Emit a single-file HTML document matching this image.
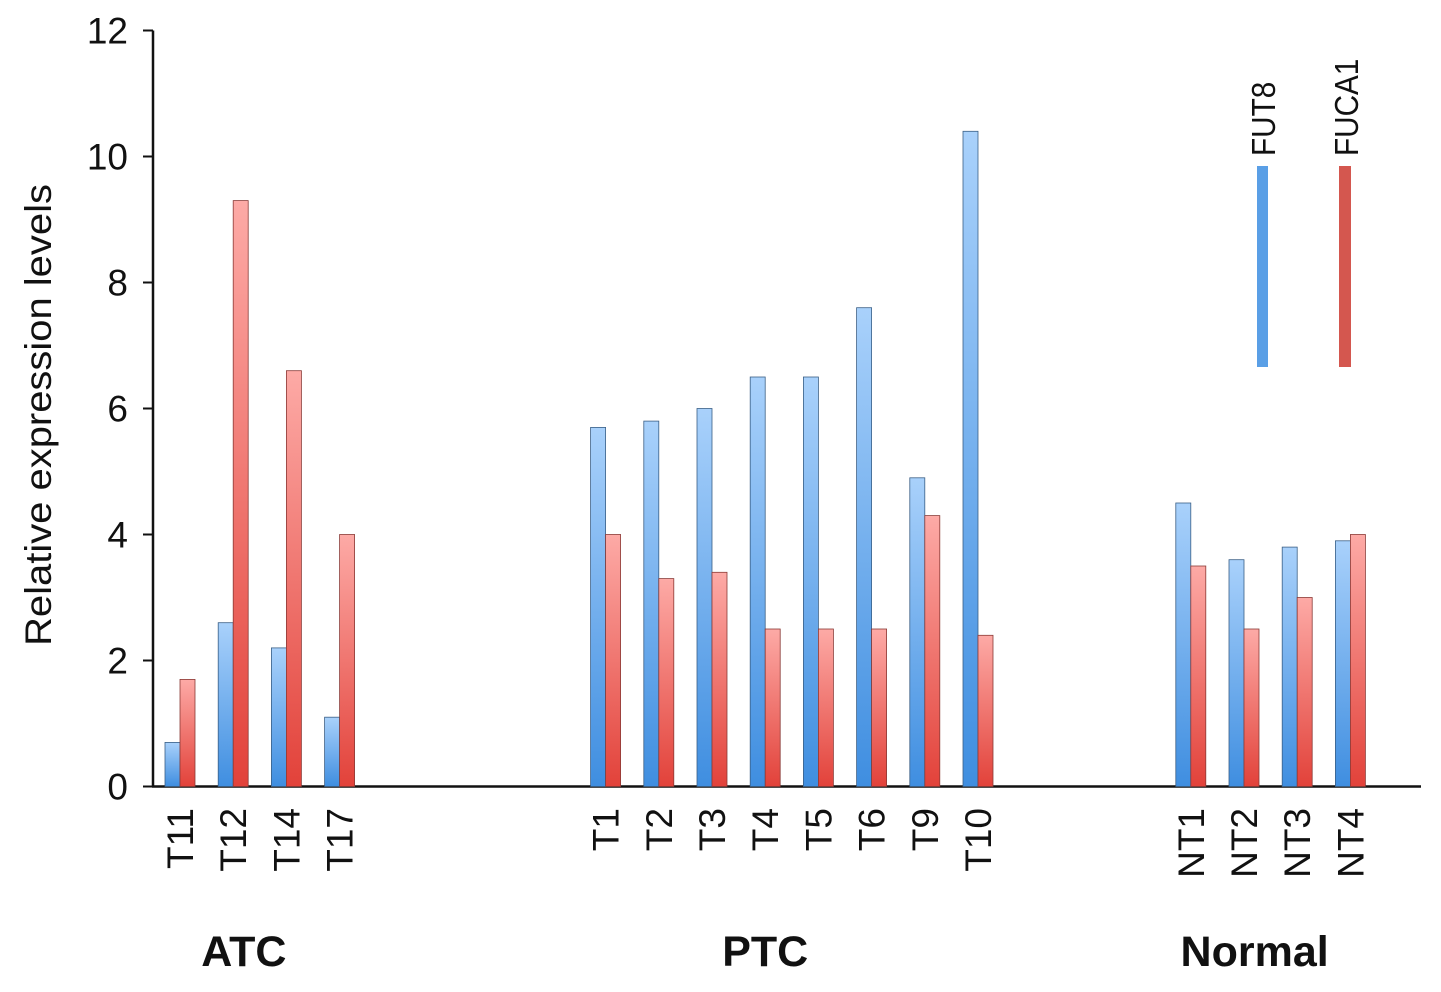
<!DOCTYPE html>
<html><head><meta charset="utf-8"><style>body{margin:0;background:#fff}svg text{font-family:"Liberation Sans",Arial,sans-serif}</style></head>
<body>
<svg id="chart" width="1441" height="987" xmlns="http://www.w3.org/2000/svg">
<defs>
<linearGradient id="gb" x1="0" y1="0" x2="0" y2="1"><stop offset="0" stop-color="#a9d1fb"/><stop offset="1" stop-color="#3f8ee0"/></linearGradient>
<linearGradient id="gr" x1="0" y1="0" x2="0" y2="1"><stop offset="0" stop-color="#fdaaa6"/><stop offset="1" stop-color="#e2423a"/></linearGradient>
</defs>
</svg>
<script>
const categories=["T11","T12","T14","T17","T1","T2","T3","T4","T5","T6","T9","T10","NT1","NT2","NT3","NT4"];
const slots=[0,1,2,3,8,9,10,11,12,13,14,15,19,20,21,22];
const fut8=[0.7,2.6,2.2,1.1,5.7,5.8,6.0,6.5,6.5,7.6,4.9,10.4,4.5,3.6,3.8,3.9];
const fuca1=[1.7,9.3,6.6,4.0,4.0,3.3,3.4,2.5,2.5,2.5,4.3,2.4,3.5,2.5,3.0,4.0];
const yTicks=[0,2,4,6,8,10,12];
const groups=["ATC","PTC","Normal"];
const groupCenters=[1.2,11.0,20.2];
const svg=document.getElementById('chart');
const NS='http://www.w3.org/2000/svg';
const y0=786.5, py=63.0;
const yS=v=>y0-v*py;
const xS=s=>180+53.2*s;
function mk(t,a,txt){const e=document.createElementNS(NS,t);for(const k in a)e.setAttribute(k,a[k]);if(txt!==undefined)e.textContent=txt;svg.appendChild(e);return e;}
let e;
e=mk('line',{x1:153,y1:yS(12),x2:153,y2:y0+1,stroke:'#111','stroke-width':2.5});


e=mk('line',{x1:152,y1:y0,x2:1421,y2:y0,stroke:'#111','stroke-width':2.5});


yTicks.forEach(v=>{
 e=mk('line',{x1:143,y1:yS(v),x2:153,y2:yS(v),stroke:'#111','stroke-width':2});
 
 
 e=mk('text',{x:128,y:yS(v)+13,'font-size':37,'text-anchor':'end',fill:'#111'},v);
 
 
});
e=mk('text',{x:0,y:0,'font-size':37,'text-anchor':'middle',fill:'#111',transform:'translate(51,415) rotate(-90) scale(1.08,1)'},'Relative expression levels');


categories.forEach((c,i)=>{
 const b=xS(slots[i]);
 e=mk('rect',{x:b-15,y:yS(fut8[i]),width:15,height:fut8[i]*py,fill:'url(#gb)',stroke:'#3a5f86','stroke-width':0.8});
 
 
 e=mk('rect',{x:b,y:yS(fuca1[i]),width:15,height:fuca1[i]*py,fill:'url(#gr)',stroke:'#8a3a36','stroke-width':0.8});
 
 
 e=mk('text',{x:0,y:0,'font-size':37,'text-anchor':'end',fill:'#111',transform:`translate(${b+13},808) rotate(-90)`},c);
 
 
});
groups.forEach((g,i)=>{
 e=mk('text',{x:xS(groupCenters[i]),y:966,'font-size':43,'font-weight':'bold','text-anchor':'middle',fill:'#111'},g);
 
 
});
e=mk('rect',{x:1257,y:166,width:11,height:201,fill:'#5a9fe6'});


e=mk('rect',{x:1339,y:166,width:12,height:201,fill:'#d4574f'});


e=mk('text',{x:0,y:0,'font-size':33,fill:'#111',transform:'translate(1275,156) rotate(-90) scale(0.9,1)'},'FUT8');


e=mk('text',{x:0,y:0,'font-size':33,fill:'#111',transform:'translate(1358,156) rotate(-90) scale(0.9,1)'},'FUCA1');


</script>
</body></html>
